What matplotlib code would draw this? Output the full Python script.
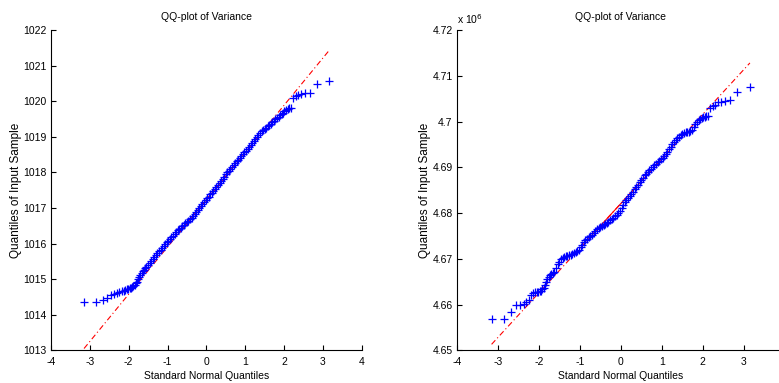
from statistics import NormalDist

import matplotlib

matplotlib.use("Agg")
import matplotlib.pyplot as plt
import numpy as np

plt.rcParams["font.family"] = ["Liberation Sans", "DejaVu Sans"]

# ---- left panel: sample quantiles vs standard normal quantiles ----
left_x = [
    -3.15, -2.84, -2.67, -2.55, -2.45, -2.37, -2.30, -2.24, -2.18, -2.13, -2.09, -2.05,
    -2.01, -1.97, -1.94, -1.91, -1.88, -1.85, -1.82, -1.79, -1.76, -1.73, -1.70, -1.67,
    -1.64, -1.61, -1.58, -1.55,
    -1.50, -1.46, -1.42, -1.38, -1.34, -1.30, -1.26, -1.22, -1.18, -1.14, -1.10,
    -1.06, -1.02, -0.98, -0.94, -0.90, -0.86, -0.82, -0.78, -0.74, -0.70,
    -0.66, -0.62, -0.58, -0.54, -0.50, -0.46, -0.42, -0.38,
    -0.34, -0.30, -0.26, -0.22, -0.18, -0.14, -0.10, -0.06,
    -0.02, 0.02, 0.06, 0.10, 0.14, 0.18, 0.22, 0.26,
    0.30, 0.34, 0.38, 0.42, 0.46, 0.50, 0.54,
    0.58, 0.62, 0.66, 0.70, 0.74, 0.78, 0.82,
    0.86, 0.90, 0.94, 0.98, 1.02, 1.06,
    1.10, 1.14, 1.18, 1.22, 1.26, 1.30, 1.34, 1.38,
    1.42, 1.46, 1.50, 1.54, 1.58, 1.62, 1.66, 1.70,
    1.74, 1.78, 1.82, 1.86, 1.90, 1.94, 1.98,
    2.01, 2.05, 2.09, 2.13, 2.18, 2.24, 2.30, 2.37, 2.45, 2.55, 2.67, 2.84, 3.15,
]
left_y = [
    1014.35, 1014.35, 1014.40, 1014.47, 1014.55, 1014.58, 1014.62, 1014.63, 1014.66, 1014.68,
    1014.69, 1014.71, 1014.72, 1014.74, 1014.76, 1014.78, 1014.80, 1014.83, 1014.88, 1014.93,
    1014.99, 1015.06, 1015.12, 1015.18, 1015.23, 1015.27, 1015.31, 1015.35,
    1015.40, 1015.46, 1015.51, 1015.56, 1015.61, 1015.67, 1015.73, 1015.78, 1015.83, 1015.88, 1015.93,
    1015.98, 1016.03, 1016.08, 1016.13, 1016.17, 1016.22, 1016.27, 1016.32, 1016.37, 1016.41,
    1016.45, 1016.49, 1016.53, 1016.57, 1016.60, 1016.64, 1016.68, 1016.72,
    1016.77, 1016.83, 1016.89, 1016.95, 1017.00, 1017.06, 1017.11, 1017.17,
    1017.22, 1017.27, 1017.32, 1017.38, 1017.43, 1017.48, 1017.53, 1017.59,
    1017.64, 1017.70, 1017.76, 1017.82, 1017.88, 1017.94, 1018.00,
    1018.05, 1018.10, 1018.15, 1018.21, 1018.26, 1018.31, 1018.36,
    1018.41, 1018.46, 1018.51, 1018.56, 1018.61, 1018.66,
    1018.72, 1018.77, 1018.83, 1018.89, 1018.94, 1019.00, 1019.05, 1019.11,
    1019.15, 1019.19, 1019.22, 1019.26, 1019.30, 1019.33, 1019.37, 1019.41,
    1019.45, 1019.49, 1019.52, 1019.56, 1019.60, 1019.63, 1019.67,
    1019.72, 1019.76, 1019.78, 1019.80, 1019.82, 1020.08, 1020.15, 1020.18, 1020.20,
    1020.22, 1020.24, 1020.48, 1020.56,
]
left_ref_x = [-3.15, 3.15]
left_ref_y = [1013.05, 1021.41]
left_xticks = [-4, -3, -2, -1, 0, 1, 2, 3, 4]
left_yticks = [1013, 1014, 1015, 1016, 1017, 1018, 1019, 1020, 1021, 1022]

# ---- right panel (values in units of 10^6) ----
right_x = [
    -3.15, -2.84, -2.67, -2.55, -2.45, -2.37, -2.30, -2.24, -2.18, -2.13, -2.09, -2.05,
    -2.01, -1.97, -1.94, -1.91, -1.88, -1.85, -1.82, -1.79, -1.76, -1.73,
    -1.70, -1.66, -1.62, -1.58, -1.54, -1.50, -1.46, -1.42, -1.38, -1.34, -1.30,
    -1.26, -1.22, -1.18, -1.14, -1.10, -1.06, -1.02, -0.98, -0.94, -0.90,
    -0.86, -0.82, -0.78, -0.74, -0.70, -0.66, -0.62, -0.58, -0.54, -0.50,
    -0.46, -0.42, -0.38, -0.34, -0.30, -0.26, -0.22, -0.18, -0.14, -0.10,
    -0.06, -0.02, 0.02, 0.06, 0.10, 0.14, 0.18, 0.22, 0.26, 0.30,
    0.34, 0.38, 0.42, 0.46, 0.50, 0.54, 0.58, 0.62, 0.66, 0.70,
    0.74, 0.78, 0.82, 0.86, 0.90, 0.94, 0.98, 1.02, 1.06, 1.10,
    1.14, 1.18, 1.22, 1.26, 1.30, 1.34, 1.38, 1.42, 1.46, 1.50,
    1.54, 1.58, 1.62, 1.66, 1.70, 1.74, 1.78, 1.82, 1.86, 1.90, 1.94, 1.98,
    2.01, 2.05, 2.09, 2.13, 2.18, 2.24, 2.30, 2.37, 2.45, 2.55, 2.67, 2.84, 3.15,
]
right_y = [
    4.6568, 4.6568, 4.6584, 4.6598, 4.6600, 4.6602, 4.6606, 4.6610, 4.6620, 4.6625,
    4.6627, 4.6628, 4.6628, 4.6629, 4.6630, 4.6633, 4.6637, 4.6643, 4.6650, 4.6656,
    4.6661, 4.6664,
    4.6666, 4.6668, 4.6672, 4.6680, 4.6688, 4.6694, 4.6699, 4.6702, 4.6704, 4.6705, 4.6707,
    4.6708, 4.6709, 4.6711, 4.6713, 4.6715, 4.6717, 4.6720, 4.6725, 4.6731, 4.6736,
    4.6740, 4.6743, 4.6747, 4.6750, 4.6753, 4.6757, 4.6760, 4.6764, 4.6767, 4.6770,
    4.6772, 4.6774, 4.6776, 4.6778, 4.6781, 4.6784, 4.6787, 4.6790, 4.6793, 4.6796,
    4.6800, 4.6805, 4.6811, 4.6817, 4.6823, 4.6828, 4.6832, 4.6837, 4.6842, 4.6847,
    4.6852, 4.6857, 4.6862, 4.6867, 4.6872, 4.6877, 4.6882, 4.6886, 4.6890, 4.6893,
    4.6897, 4.6900, 4.6904, 4.6907, 4.6911, 4.6914, 4.6918, 4.6921, 4.6925, 4.6929,
    4.6933, 4.6939, 4.6945, 4.6951, 4.6956, 4.6960, 4.6964, 4.6967, 4.6970, 4.6972,
    4.6974, 4.6976, 4.6977, 4.6978, 4.6979, 4.6982, 4.6988, 4.6995, 4.6999, 4.7003,
    4.7006, 4.7008,
    4.7009, 4.7010, 4.7011, 4.7013, 4.7030, 4.7033, 4.7036, 4.7042, 4.7043, 4.7045,
    4.7047, 4.7065, 4.7075,
]
right_ref_x = [-3.15, 3.15]
right_ref_y = [4.6513, 4.7128]
# the +4 tick of the right axes falls past the figure edge
right_xticks = [-4, -3, -2, -1, 0, 1, 2, 3]
right_yticks = [4.65, 4.66, 4.67, 4.68, 4.69, 4.70, 4.71, 4.72]
right_ytick_labels = ["4.65", "4.66", "4.67", "4.68", "4.69", "4.7", "4.71", "4.72"]

title_text = "QQ-plot of Variance"


def qq_panel(ax, xs, ys, ref_x, ref_y, xticks):
    # reference line: solid over the quartiles, dash-dot over the full range
    slope = (ref_y[1] - ref_y[0]) / (ref_x[1] - ref_x[0])
    q = NormalDist().inv_cdf(0.75)
    iq_x = np.array([-q, q])
    iq_y = ref_y[0] + slope * (iq_x - ref_x[0])
    ax.plot(ref_x, ref_y, color="red", lw=0.8, linestyle=(0, (5, 2.5, 1, 2.5)), zorder=1)
    ax.plot(iq_x, iq_y, color="red", lw=0.8, zorder=1)
    ax.plot(xs, ys, linestyle="none", marker="+", color="blue", markersize=6.3,
            markeredgewidth=0.9, zorder=2)

    ax.set_xlim(-4, 4)
    ax.set_xticks(xticks)
    ax.set_xticklabels([str(t) for t in xticks])
    for side in ("top", "right"):
        ax.spines[side].set_visible(False)
    for side in ("left", "bottom"):
        ax.spines[side].set_linewidth(0.8)
    ax.tick_params(direction="in", length=3.5, width=0.8, labelsize=7.5, pad=3)
    ax.tick_params(axis="x", pad=5)
    ax.set_title(title_text, fontsize=7.5, pad=7)
    ax.set_xlabel("Standard Normal Quantiles", fontsize=7.5, labelpad=3)
    ax.set_ylabel("Quantiles of Input Sample", fontsize=8.5, labelpad=1)


fig = plt.figure(figsize=(7.79, 3.83), dpi=100)
ax1 = fig.add_axes([0.0655, 0.0854, 0.3988, 0.8363])
ax2 = fig.add_axes([0.5863, 0.0854, 0.4211, 0.8363])

qq_panel(ax1, left_x, left_y, left_ref_x, left_ref_y, left_xticks)
ax1.set_ylim(1013, 1022)
ax1.set_yticks(left_yticks)
ax1.set_yticklabels([str(t) for t in left_yticks])

qq_panel(ax2, right_x, right_y, right_ref_x, right_ref_y, right_xticks)
ax2.set_ylim(4.65, 4.72)
ax2.set_yticks(right_yticks)
ax2.set_yticklabels(right_ytick_labels)
ax2.text(0.0, 1.012, r"x 10$^{6}$", transform=ax2.transAxes, fontsize=7.5,
         ha="left", va="bottom")

fig.savefig("out.png", dpi=100)
